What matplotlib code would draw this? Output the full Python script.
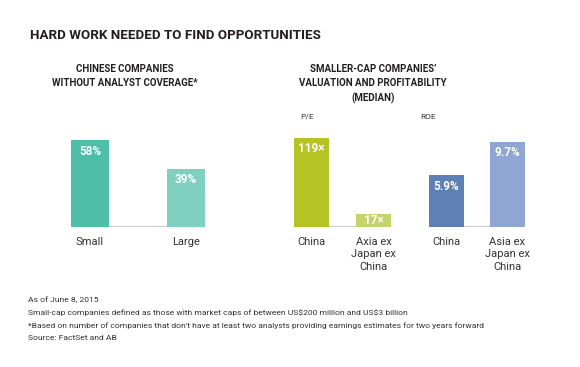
import matplotlib.pyplot as plt

# data
left_cats = ['Small', 'Large']
left_vals = [58, 39]
left_lbls = ['58%', '39%']

pe_cats = ['China', 'Axia ex\nJapan ex\nChina']
pe_vals = [119, 17]
pe_lbls = ['119×', '17×']

roe_cats = ['China', 'Asia ex\nJapan ex\nChina']
roe_vals = [5.9, 9.7]
roe_lbls = ['5.9%', '9.7%']

W, H = 580, 367
fig = plt.figure(figsize=(W / 100, H / 100), dpi=100)
fig.patch.set_facecolor('white')

fam = ['Roboto', 'DejaVu Sans']
dark = '#231f20'
txt = '#333333'


def px_axes(x0, x1, y_base, y_top):
    # pixel box (from top-left) -> figure axes
    return fig.add_axes([x0 / W, (H - y_base) / H, (x1 - x0) / W, (y_base - y_top) / H])


def panel(ax, cats, vals, lbls, cols, pxu, width, half):
    ax.bar(range(len(vals)), vals, width=width, color=cols, zorder=2)
    ax.set_xlim(-half, len(vals) - 1 + half)
    ax.set_ylim(0, 97 / pxu)
    ax.axhline(0, color='#c8c8c8', lw=1.5, zorder=1)
    for s in ax.spines.values():
        s.set_visible(False)
    ax.set_yticks([])
    ax.set_xticks(range(len(vals)))
    ax.set_xticklabels(cats, fontsize=8, color=txt, family=fam, linespacing=1.3)
    ax.tick_params(axis='x', length=0, pad=7)
    ax.patch.set_alpha(0)
    for i, (v, l) in enumerate(zip(vals, lbls)):
        off = min(8, v * pxu / 2 * 0.72)
        ax.annotate(l, (i, v), xytext=(0, -off), textcoords='offset points',
                    ha='center', va='center', color='white', fontsize=8.5,
                    fontweight='bold', family=fam)


# left panel: 1.5 px per %
ax1 = px_axes(71, 205, 227, 130)
panel(ax1, left_cats, left_vals, left_lbls, ['#4dbfa9', '#80d0c2'], 1.5, 0.396, 0.198)

# P/E panel: 0.75 px per unit
ax2 = px_axes(294, 391, 227, 130)
panel(ax2, pe_cats, pe_vals, pe_lbls, ['#b5c424', '#c5d46a'], 0.75, 0.565, 0.282)

# ROE panel: 8.8 px per unit
ax3 = px_axes(429, 525, 227, 130)
panel(ax3, roe_cats, roe_vals, roe_lbls, ['#5e80b5', '#8ea6d1'], 8.8, 0.574, 0.287)


def ftext(x, y, s, **kw):
    fig.text(x / W, 1 - y / H, s, **kw)


ftext(30, 39, 'HARD WORK NEEDED TO FIND OPPORTUNITIES', fontsize=9.6, fontweight='bold',
      color=dark, family=fam, va='baseline')

ftext(125, 76, 'CHINESE COMPANIES\nWITHOUT ANALYST COVERAGE*', fontsize=7, fontweight='bold',
      color=dark, family=fam, ha='center', va='center', linespacing=1.55)
ftext(373, 84, 'SMALLER-CAP COMPANIES’\nVALUATION AND PROFITABILITY\n(MEDIAN)', fontsize=7,
      fontweight='bold', color=dark, family=fam, ha='center', va='center', linespacing=1.55)

ftext(307, 117, 'P/E', fontsize=6, color=txt, family=fam, ha='center', va='center')
ftext(428, 117, 'ROE', fontsize=6, color=txt, family=fam, ha='center', va='center')

notes = [
    'As of June 8, 2015',
    r'Small-cap companies defined as those with market caps of between US\$200 million and US\$3 billion',
    "*Based on number of companies that don't have at least two analysts providing earnings estimates for two years forward",
    'Source: FactSet and AB',
]
for k, n in enumerate(notes):
    ftext(28, 300 + 12.7 * k, n, fontsize=6.1, color=txt, family=fam, va='center')

fig.savefig('out.png', dpi=100, facecolor='white')
